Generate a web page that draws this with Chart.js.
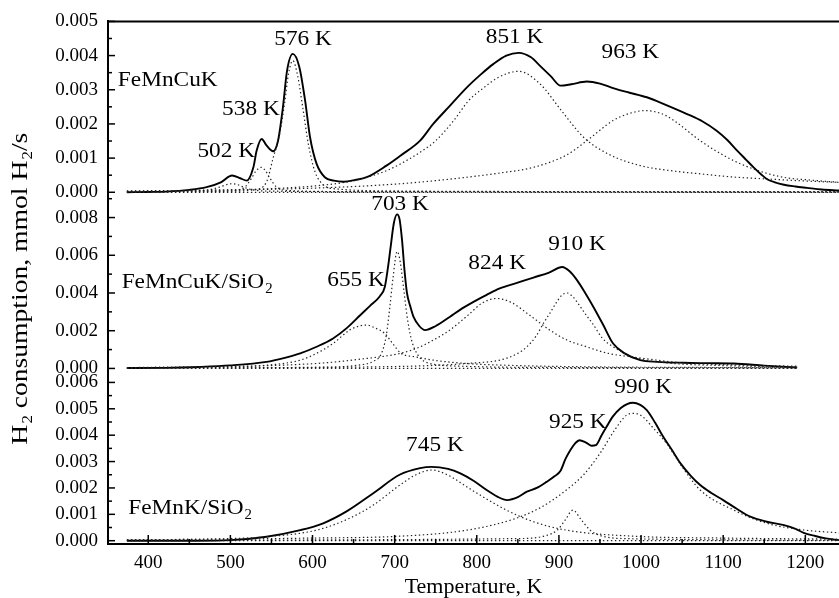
<!DOCTYPE html>
<html>
<head>
<meta charset="utf-8">
<script src="https://cdn.jsdelivr.net/npm/chart.js@4.4.1/dist/chart.umd.min.js"></script>
<style>
  body { margin: 0; background: #fff; }
  #wrap { width: 839px; height: 598px; }
</style>
</head>
<body>
<div id="wrap"><canvas id="tpr" width="839" height="598"></canvas></div>
<script>
// H2-TPR profiles, temperature in K, consumption in mmol H2/s

// FeMnCuK - measured
var tempA = [374, 400, 422, 450, 471, 489, 502, 512, 520, 528, 532, 538, 544, 552, 558, 564, 569, 576, 584, 591, 597, 605, 615, 626, 638, 652, 666, 690, 707, 731, 747, 768, 788, 805, 820, 836, 851, 866, 877, 890, 902, 915, 934, 950, 966, 985, 1007, 1030, 1056, 1075, 1092, 1105, 1117, 1128, 1137, 1146, 1153, 1163, 1174, 1188, 1202, 1220, 1241];
var h2A = [0, 0.00001, 0.00002, 0.00007, 0.00015, 0.0003, 0.00049, 0.00041, 0.00034, 0.00073, 0.00122, 0.00156, 0.00137, 0.0012, 0.00151, 0.00249, 0.00356, 0.00405, 0.00366, 0.00268, 0.00161, 0.00083, 0.00044, 0.00034, 0.00031, 0.00036, 0.00044, 0.00078, 0.00107, 0.00151, 0.002, 0.00255, 0.00307, 0.00345, 0.00375, 0.004, 0.00408, 0.00395, 0.0037, 0.0034, 0.00312, 0.00316, 0.00324, 0.00318, 0.00305, 0.00292, 0.00278, 0.00256, 0.00229, 0.00207, 0.0018, 0.00153, 0.00122, 0.00095, 0.00073, 0.00053, 0.00039, 0.00029, 0.00022, 0.00017, 0.00013, 0.00008, 0.00005];

// FeMnCuK - fitted peaks
var fitA502T = [374, 450, 475, 488, 495, 502, 509, 516, 530, 560, 700, 1241];
var fitA502 = [0.00001, 0.00003, 0.00008, 0.00016, 0.00022, 0.00025, 0.00022, 0.00015, 0.00006, 0.00003, 0.00001, 0.00001];
var fitA538T = [374, 500, 518, 526, 531, 538, 543, 548, 556, 570, 650, 1241];
var fitA538 = [0.00001, 0.00004, 0.00016, 0.00042, 0.00062, 0.00073, 0.00062, 0.00042, 0.00016, 0.00005, 0.00002, 0.00001];
var fitA576T = [374, 500, 530, 544, 552, 560, 566, 571, 576, 582, 588, 595, 603, 613, 628, 700, 900, 1241];
var fitA576 = [0.00001, 0.00003, 0.00008, 0.0003, 0.001, 0.0017, 0.0026, 0.0035, 0.00385, 0.0034, 0.0025, 0.0014, 0.0006, 0.00022, 0.0001, 0.00004, 0.00002, 0.00001];
var fitA851T = [374, 500, 544, 609, 650, 690, 707, 731, 750, 772, 790, 808, 826, 851, 877, 903, 930, 960, 999, 1040, 1072, 1110, 1153, 1200, 1241];
var fitA851 = [0.00004, 0.00007, 0.0001, 0.0002, 0.00034, 0.00063, 0.00083, 0.00117, 0.00151, 0.0021, 0.00268, 0.00305, 0.00336, 0.00354, 0.00317, 0.00239, 0.00161, 0.00112, 0.00078, 0.00062, 0.00054, 0.00045, 0.00039, 0.00033, 0.00029];
var fitA963T = [374, 600, 707, 788, 830, 869, 910, 934, 966, 985, 1005, 1025, 1040, 1072, 1105, 1137, 1173, 1210, 1241];
var fitA963 = [0.00003, 0.00012, 0.00025, 0.00044, 0.00057, 0.00073, 0.0011, 0.00151, 0.0021, 0.0023, 0.00239, 0.0023, 0.0021, 0.00151, 0.00102, 0.00068, 0.00044, 0.00035, 0.00029];

// FeMnCuK/SiO2 - measured
var tempB = [374, 420, 463, 500, 544, 565, 585, 605, 625, 642, 658, 670, 682, 688, 692, 695, 699, 703, 706, 709, 712, 715, 719, 723, 730, 737, 750, 767, 780, 796, 812, 828, 848, 869, 888, 904, 913, 922, 932, 942, 954, 966, 980, 999, 1020, 1052, 1080, 1113, 1150, 1190];
var h2B = [0.00002, 0.00003, 0.00008, 0.00016, 0.00035, 0.00055, 0.0008, 0.00115, 0.00159, 0.00215, 0.00282, 0.00332, 0.00383, 0.00432, 0.0054, 0.0064, 0.0077, 0.00817, 0.0079, 0.0068, 0.0052, 0.004, 0.0033, 0.00273, 0.00225, 0.00203, 0.00225, 0.00273, 0.00312, 0.00353, 0.0039, 0.00424, 0.00452, 0.00482, 0.00508, 0.00538, 0.00515, 0.00468, 0.004, 0.00326, 0.0023, 0.00132, 0.0008, 0.00044, 0.00035, 0.0003, 0.00028, 0.00026, 0.00015, 0.00005];

// FeMnCuK/SiO2 - fitted peaks
var fitB655T = [374, 500, 544, 585, 605, 625, 645, 658, 666, 676, 688, 698, 707, 727, 747, 788, 850, 950, 1190];
var fitB655 = [0.00002, 0.00008, 0.00017, 0.00044, 0.0008, 0.00132, 0.00203, 0.00226, 0.0023, 0.00215, 0.00185, 0.0013, 0.00083, 0.0006, 0.00044, 0.00026, 0.00015, 0.00008, 0.00004];
var fitB703T = [374, 600, 660, 675, 684, 690, 694, 698, 703, 707, 711, 715, 720, 727, 740, 780, 900, 1190];
var fitB703 = [0.00002, 0.00006, 0.0002, 0.0004, 0.0008, 0.0018, 0.0032, 0.0048, 0.0062, 0.0056, 0.0042, 0.0028, 0.0016, 0.0008, 0.0003, 0.00012, 0.00005, 0.00003];
var fitB824T = [374, 600, 660, 707, 727, 747, 767, 790, 806, 824, 842, 862, 889, 910, 930, 960, 991, 1050, 1120, 1190];
var fitB824 = [0.00004, 0.00025, 0.0005, 0.0008, 0.00107, 0.0015, 0.00203, 0.00285, 0.00345, 0.00371, 0.0035, 0.0029, 0.00203, 0.0015, 0.0012, 0.0008, 0.0006, 0.0003, 0.00018, 0.00012];
var fitB910T = [374, 700, 800, 828, 850, 861, 872, 881, 890, 897, 904, 910, 917, 924, 932, 941, 953, 966, 991, 1030, 1100, 1190];
var fitB910 = [0.00002, 0.0001, 0.0003, 0.00044, 0.0008, 0.00115, 0.0017, 0.00238, 0.003, 0.0035, 0.0039, 0.004, 0.0038, 0.0034, 0.0029, 0.00238, 0.0016, 0.00115, 0.0006, 0.0003, 0.00015, 0.00008];

// FeMnK/SiO2 - measured
var tempC = [374, 420, 460, 500, 544, 585, 613, 642, 674, 706, 731, 745, 765, 780, 796, 812, 825, 837, 850, 861, 873, 885, 895, 902, 908, 914, 920, 925, 933, 940, 945, 952, 958, 966, 975, 983, 990, 999, 1007, 1017, 1027, 1038, 1048, 1060, 1072, 1085, 1100, 1116, 1133, 1153, 1174, 1188, 1198, 1212, 1225, 1241];
var h2C = [0, 0, 0, 0.00002, 0.00015, 0.0004, 0.00066, 0.00112, 0.0018, 0.0025, 0.00275, 0.0028, 0.00272, 0.00255, 0.00227, 0.00192, 0.00167, 0.00154, 0.00165, 0.00186, 0.002, 0.00223, 0.00245, 0.00265, 0.0031, 0.00344, 0.0037, 0.00381, 0.00372, 0.0036, 0.00362, 0.004, 0.00432, 0.00472, 0.00502, 0.00518, 0.00523, 0.00515, 0.00495, 0.00448, 0.00394, 0.00342, 0.00293, 0.00248, 0.00211, 0.00182, 0.00154, 0.00122, 0.00091, 0.00072, 0.00059, 0.00045, 0.0003, 0.00018, 0.00009, 0.00002];

// FeMnK/SiO2 - fitted peaks
var fitC745T = [374, 500, 544, 605, 645, 674, 706, 726, 745, 764, 794, 836, 869, 909, 991, 1100, 1241];
var fitC745 = [0.00003, 0.00008, 0.00015, 0.0004, 0.00085, 0.00135, 0.0021, 0.0025, 0.00268, 0.0025, 0.00192, 0.00116, 0.00072, 0.0004, 0.00017, 0.0001, 0.00006];
var fitC925T = [374, 850, 885, 898, 908, 917, 927, 938, 950, 980, 1241];
var fitC925 = [0.00002, 0.00008, 0.0002, 0.0004, 0.0008, 0.00116, 0.0008, 0.0004, 0.0002, 0.00008, 0.00002];
var fitC990T = [374, 600, 706, 788, 848, 880, 909, 930, 950, 968, 982, 990, 1000, 1014, 1031, 1050, 1072, 1113, 1153, 1200, 1241];
var fitC990 = [0.00003, 0.0001, 0.00017, 0.0004, 0.00085, 0.0013, 0.00192, 0.0025, 0.00331, 0.0042, 0.00475, 0.00483, 0.00475, 0.0043, 0.00369, 0.0028, 0.00192, 0.00116, 0.00066, 0.0004, 0.0003];

// flat fit baselines
var baseAT = [374, 1241], baseA = [0, 0];
var baseBT = [374, 1190], baseB = [0, 0];
var baseCT = [374, 1241], baseC = [0, 0];

// axis ranges and tick values
var tempRange = [351, 1241];
var tempTicks = [400, 500, 600, 700, 800, 900, 1000, 1100, 1200];
var rangeA = [-0.000146, 0.005];
var ticksA = [0, 0.001, 0.002, 0.003, 0.004, 0.005];
var rangeB = [-0.000196, 0.009076];
var ticksB = [0, 0.002, 0.004, 0.006, 0.008];
var rangeC = [-0.000125, 0.00639];
var ticksC = [0, 0.001, 0.002, 0.003, 0.004, 0.005, 0.006];

// text placed on the panels: [axis, K, value, text, subscript, align]
var panelLabels = [
  ['yA', 495, 0.00119, '502 K', '', 'center'],
  ['yA', 525, 0.00242, '538 K', '', 'center'],
  ['yA', 588.5, 0.00447, '576 K', '', 'center'],
  ['yA', 846, 0.00453, '851 K', '', 'center'],
  ['yA', 987, 0.00409, '963 K', '', 'center'],
  ['yA', 363, 0.00329, 'FeMnCuK', '', 'left'],
  ['yB', 706.6, 0.0087, '703 K', '', 'center'],
  ['yB', 653, 0.00468, '655 K', '', 'center'],
  ['yB', 824.8, 0.00556, '824 K', '', 'center'],
  ['yB', 922, 0.00659, '910 K', '', 'center'],
  ['yB', 367.6, 0.00459, 'FeMnCuK/SiO', '2', 'left'],
  ['yC', 749, 0.00362, '745 K', '', 'center'],
  ['yC', 923, 0.0045, '925 K', '', 'center'],
  ['yC', 1002.6, 0.00583, '990 K', '', 'center'],
  ['yC', 375.6, 0.00124, 'FeMnK/SiO', '2', 'left']
];

var SERIF = "'Liberation Serif', 'Times New Roman', serif";

function pts(t, v) {
  return t.map(function (x, i) { return { x: x, y: v[i] }; });
}

function solid(t, v, axis) {
  return {
    data: pts(t, v), yAxisID: axis,
    borderColor: '#000', borderWidth: 1.9,
    pointRadius: 0, cubicInterpolationMode: 'monotone', fill: false
  };
}

function dotted(t, v, axis) {
  return {
    data: pts(t, v), yAxisID: axis,
    borderColor: '#222', borderWidth: 1.2, borderDash: [1.4, 2.6],
    pointRadius: 0, cubicInterpolationMode: 'monotone', fill: false
  };
}

function fixedTicks(list) {
  return function (s) {
    s.ticks = list.map(function (v) { return { value: v }; });
  };
}

// text with an optional lowered subscript tail, stretched a bit horizontally
function drawRich(ctx, main, sub, x, y, size, align, stretch) {
  var subSize = Math.round(size * 0.62);
  ctx.font = size + 'px ' + SERIF;
  var w1 = ctx.measureText(main).width;
  ctx.font = subSize + 'px ' + SERIF;
  var w2 = sub ? ctx.measureText(sub).width + 1 : 0;
  var w = w1 + w2;
  var x0 = align === 'center' ? -w / 2 : 0;
  ctx.save();
  ctx.translate(x, y);
  ctx.scale(stretch, 1);
  ctx.fillStyle = '#000';
  ctx.textAlign = 'left';
  ctx.textBaseline = 'middle';
  ctx.font = size + 'px ' + SERIF;
  ctx.fillText(main, x0, 0);
  if (sub) {
    ctx.font = subSize + 'px ' + SERIF;
    ctx.fillText(sub, x0 + w1 + 1, size * 0.33);
  }
  ctx.restore();
}

// inward major/minor tick marks, top frame line, labels and y title
var decorPlugin = {
  id: 'decor',
  afterDraw: function (chart) {
    var ctx = chart.ctx;
    var area = chart.chartArea;
    ctx.save();
    ctx.strokeStyle = '#000';
    ctx.lineWidth = 1.5;

    ['yA', 'yB', 'yC', 'x'].forEach(function (id) {
      var sc = chart.scales[id];
      var vals = sc.ticks.map(function (t) { return t.value; });
      var step = vals[1] - vals[0];
      var minors = [];
      for (var i = -1; i < vals.length; i++) {
        var m = vals[0] + (i + 0.5) * step;
        if (m > sc.min && m < sc.max) minors.push(m);
      }
      var horiz = id === 'x';
      var marks = vals.map(function (v) { return [v, horiz ? 9 : 7]; })
        .concat(minors.map(function (v) { return [v, horiz ? 5 : 4]; }));
      marks.forEach(function (mk) {
        var p = sc.getPixelForValue(mk[0]);
        ctx.beginPath();
        if (horiz) {
          ctx.moveTo(p, area.bottom);
          ctx.lineTo(p, area.bottom - mk[1]);
        } else {
          ctx.moveTo(area.left, p);
          ctx.lineTo(area.left + mk[1], p);
        }
        ctx.stroke();
      });
    });

    // top frame
    ctx.lineWidth = 2;
    ctx.beginPath();
    ctx.moveTo(area.left - 1, area.top);
    ctx.lineTo(area.right, area.top);
    ctx.stroke();

    var xs = chart.scales.x;
    panelLabels.forEach(function (lb) {
      var ys = chart.scales[lb[0]];
      drawRich(ctx, lb[3], lb[4], xs.getPixelForValue(lb[1]), ys.getPixelForValue(lb[2]), 22, lb[5], 1.06);
    });

    // rotated y title with subscripts
    ctx.save();
    ctx.translate(21, (area.top + area.bottom) / 2 + 6);
    ctx.rotate(-Math.PI / 2);
    var size = 23;
    var parts = [['H', '2'], [' consumption, mmol H', '2'], ['/s', '']];
    var total = 0, sw = [];
    parts.forEach(function (p) {
      ctx.font = size + 'px ' + SERIF;
      var a = ctx.measureText(p[0]).width;
      ctx.font = Math.round(size * 0.62) + 'px ' + SERIF;
      var b = p[1] ? ctx.measureText(p[1]).width + 1 : 0;
      sw.push(a + b);
      total += a + b;
    });
    var stretch = 1.2;
    var cx = -total * stretch / 2;
    parts.forEach(function (p, i) {
      drawRich(ctx, p[0], p[1], cx, 0, size, 'left', stretch);
      cx += sw[i] * stretch;
    });
    ctx.restore();

    ctx.restore();
  }
};

function yAxis(range, list, weight) {
  return {
    type: 'linear', position: 'left', stack: 'tpr', stackWeight: weight,
    min: range[0], max: range[1],
    grid: { display: false, drawTicks: false },
    border: { display: true, color: '#000', width: 2 },
    afterBuildTicks: fixedTicks(list),
    ticks: {
      autoSkip: false, color: '#000', padding: 10,
      font: { family: SERIF, size: 19 },
      callback: function (v) { return v.toFixed(3); }
    },
    afterFit: function (s) { s.width = 108; }
  };
}

var config = {
  type: 'line',
  data: {
    datasets: [
      dotted(baseAT, baseA, 'yA'),
      dotted(fitA502T, fitA502, 'yA'),
      dotted(fitA538T, fitA538, 'yA'),
      dotted(fitA576T, fitA576, 'yA'),
      dotted(fitA851T, fitA851, 'yA'),
      dotted(fitA963T, fitA963, 'yA'),
      solid(tempA, h2A, 'yA'),
      dotted(baseBT, baseB, 'yB'),
      dotted(fitB655T, fitB655, 'yB'),
      dotted(fitB703T, fitB703, 'yB'),
      dotted(fitB824T, fitB824, 'yB'),
      dotted(fitB910T, fitB910, 'yB'),
      solid(tempB, h2B, 'yB'),
      dotted(baseCT, baseC, 'yC'),
      dotted(fitC745T, fitC745, 'yC'),
      dotted(fitC925T, fitC925, 'yC'),
      dotted(fitC990T, fitC990, 'yC'),
      solid(tempC, h2C, 'yC')
    ]
  },
  options: {
    responsive: false,
    animation: false,
    layout: { padding: { top: 21, right: 0, bottom: 0, left: 0 } },
    plugins: { legend: { display: false }, tooltip: { enabled: false } },
    scales: {
      x: {
        type: 'linear', position: 'bottom',
        min: tempRange[0], max: tempRange[1],
        grid: { display: false, drawTicks: false },
        border: { display: true, color: '#000', width: 2 },
        afterBuildTicks: fixedTicks(tempTicks),
        ticks: {
          autoSkip: false, color: '#000', padding: 8, maxRotation: 0,
          font: { family: SERIF, size: 19 },
          callback: function (v) { return String(v); }
        },
        title: {
          display: true, text: 'Temperature, K', color: '#000',
          font: { family: SERIF, size: 22, lineHeight: 1 },
          padding: { top: 0, bottom: 0 }
        },
        afterFit: function (s) { s.height = 54; }
      },
      yC: yAxis(rangeC, ticksC, 172),
      yB: yAxis(rangeB, ticksB, 175),
      yA: yAxis(rangeA, ticksA, 176)
    }
  },
  plugins: [decorPlugin]
};

var tprChart = new Chart(document.getElementById('tpr'), config);
</script>
</body>
</html>
